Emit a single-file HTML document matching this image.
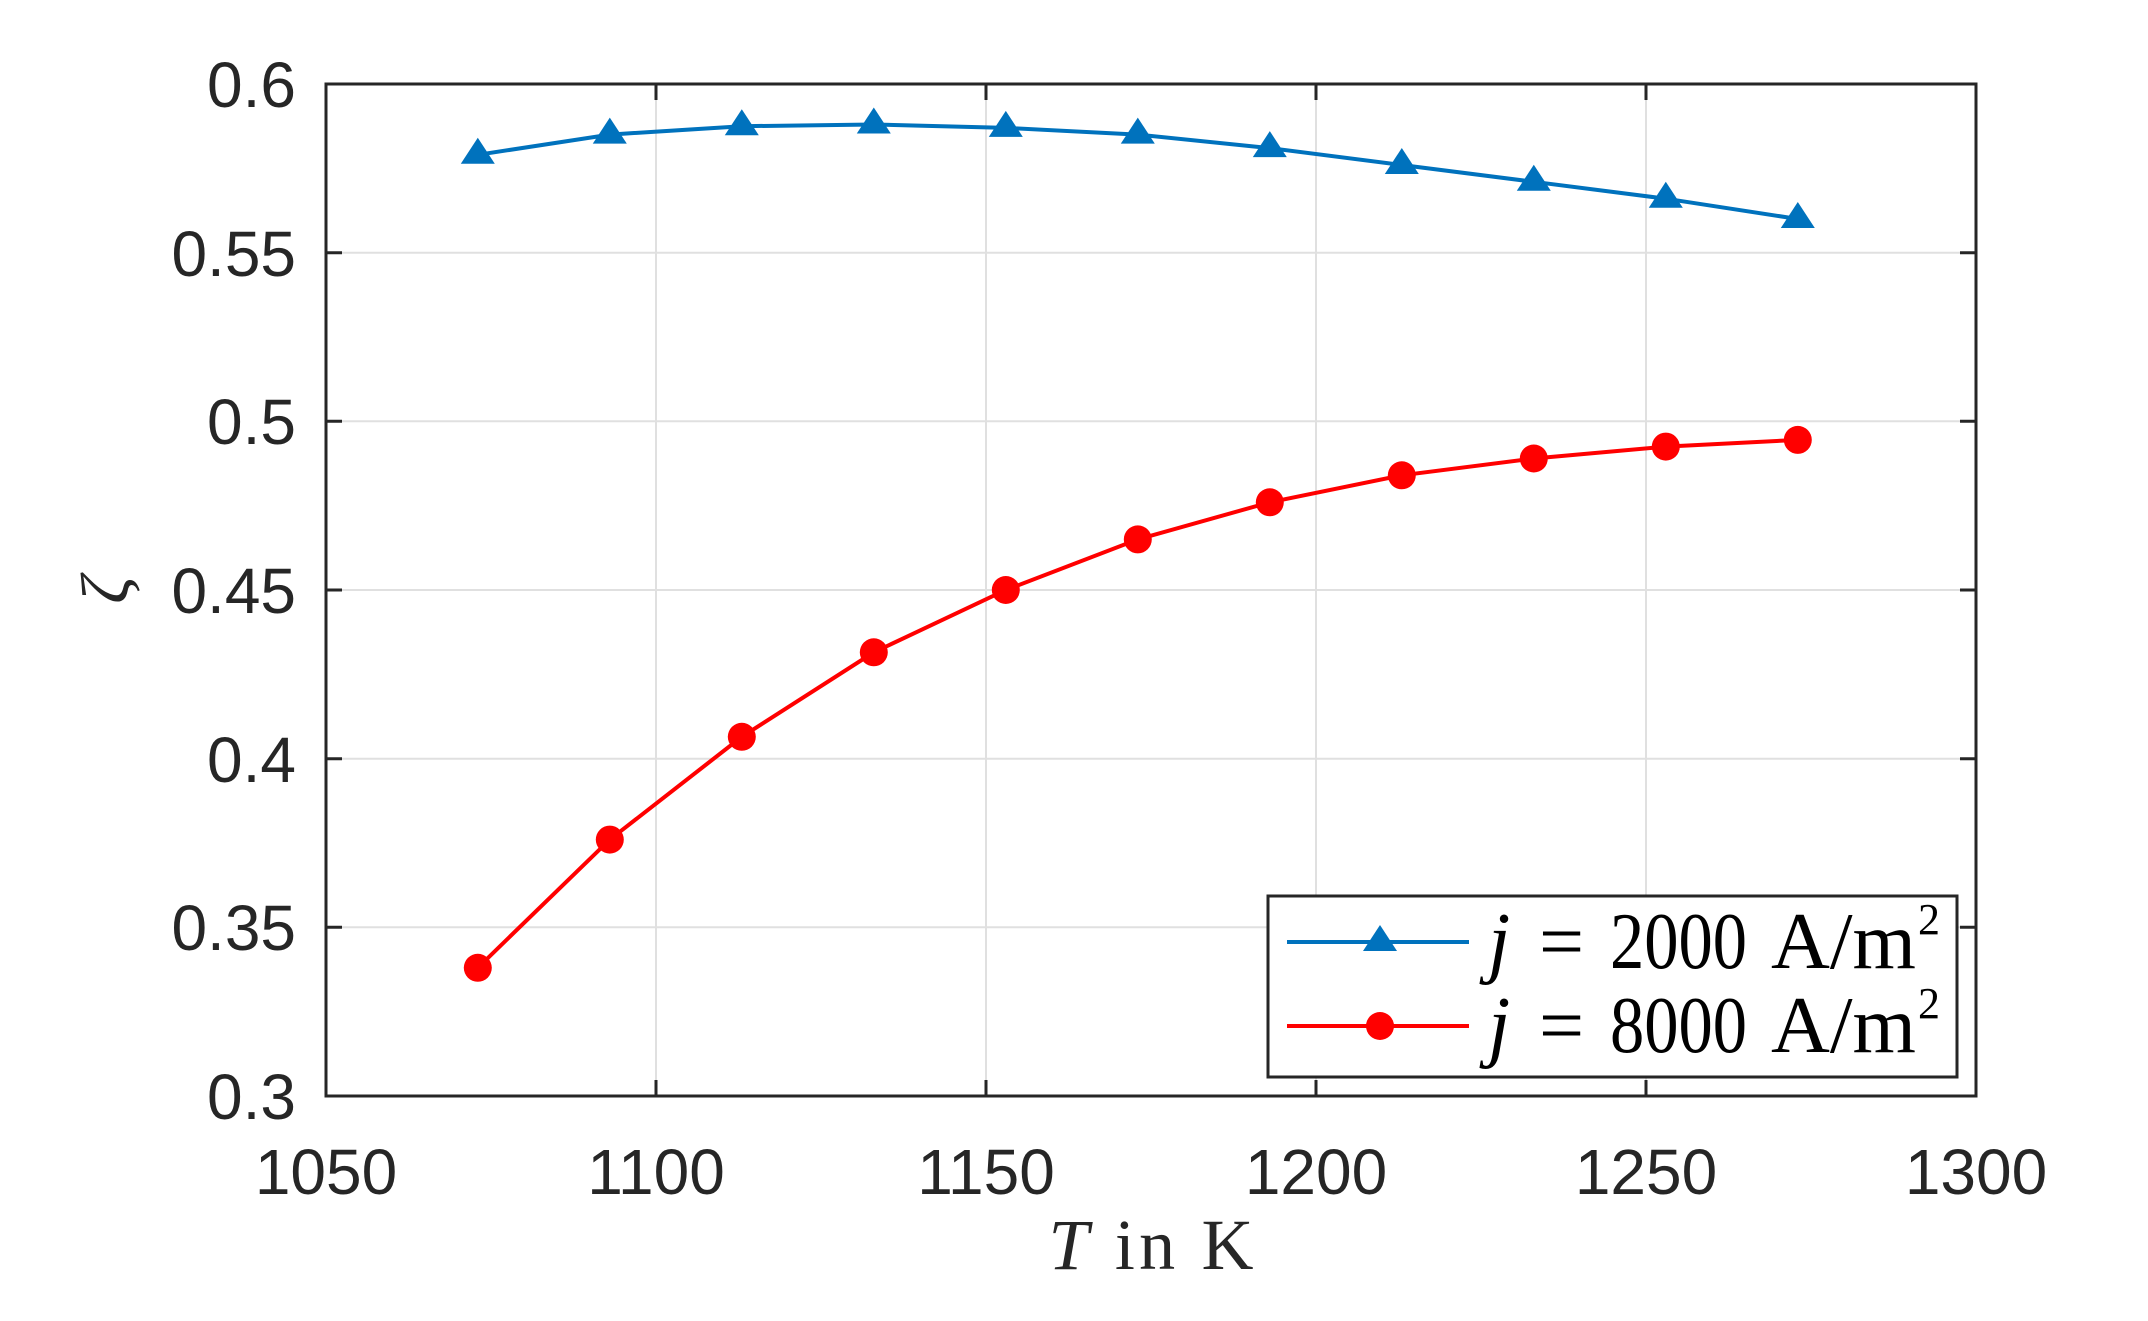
<!DOCTYPE html>
<html><head><style>html,body{margin:0;padding:0;background:#fff}</style></head><body>
<svg width="2148" height="1316" viewBox="0 0 2148 1316" xmlns="http://www.w3.org/2000/svg">
<rect width="2148" height="1316" fill="#fff"/>
<g stroke="#e0e0e0" stroke-width="2">
<line x1="656" y1="84" x2="656" y2="1096"/><line x1="986" y1="84" x2="986" y2="1096"/><line x1="1316" y1="84" x2="1316" y2="1096"/><line x1="1646" y1="84" x2="1646" y2="1096"/>
<line x1="326" y1="927.3" x2="1976" y2="927.3"/><line x1="326" y1="758.7" x2="1976" y2="758.7"/><line x1="326" y1="590" x2="1976" y2="590"/><line x1="326" y1="421.3" x2="1976" y2="421.3"/><line x1="326" y1="252.7" x2="1976" y2="252.7"/>
</g>
<g stroke="#262626" stroke-width="3" fill="none">
<rect x="326" y="84" width="1650" height="1012"/>
<path d="M656 1096v-16M986 1096v-16M1316 1096v-16M1646 1096v-16M656 84v16M986 84v16M1316 84v16M1646 84v16"/>
<path d="M326 927.3h16M326 758.7h16M326 590h16M326 421.3h16M326 252.7h16M1976 927.3h-16M1976 758.7h-16M1976 590h-16M1976 421.3h-16M1976 252.7h-16"/>
</g>
<g font-family="Liberation Sans, sans-serif" font-size="64" fill="#262626" text-anchor="end">
<text x="296" y="1119">0.3</text><text x="296" y="950">0.35</text><text x="296" y="782">0.4</text><text x="296" y="613">0.45</text><text x="296" y="444">0.5</text><text x="296" y="276">0.55</text><text x="296" y="107">0.6</text>
</g>
<g font-family="Liberation Sans, sans-serif" font-size="64" fill="#262626" text-anchor="middle">
<text x="326" y="1194">1050</text><text x="656" y="1194">1100</text><text x="986" y="1194">1150</text><text x="1316" y="1194">1200</text><text x="1646" y="1194">1250</text><text x="1976" y="1194">1300</text>
</g>
<text x="1151" y="1269" font-family="Liberation Serif, serif" font-size="72" fill="#262626" text-anchor="middle" textLength="205"><tspan font-style="italic">T</tspan> in K</text>
<text x="0" y="0" transform="translate(128,590) rotate(-90)" font-family="Liberation Serif, DejaVu Serif, serif" font-style="italic" font-size="68" fill="#262626" text-anchor="middle">ζ</text>
<polyline fill="none" stroke="#0072bd" stroke-width="4" points="477.8,154.8 609.8,134.6 741.8,126.2 873.8,124.5 1005.8,127.9 1137.8,134.6 1269.8,148.1 1401.8,165 1533.8,181.8 1665.8,198.7 1797.8,219"/>
<g fill="#0072bd">
<path d="M477.8 137.8l17 26h-34z"/><path d="M609.8 117.6l17 26h-34z"/><path d="M741.8 109.2l17 26h-34z"/><path d="M873.8 107.5l17 26h-34z"/><path d="M1005.8 110.9l17 26h-34z"/><path d="M1137.8 117.6l17 26h-34z"/><path d="M1269.8 131.1l17 26h-34z"/><path d="M1401.8 148l17 26h-34z"/><path d="M1533.8 164.8l17 26h-34z"/><path d="M1665.8 181.7l17 26h-34z"/><path d="M1797.8 202l17 26h-34z"/>
</g>
<polyline fill="none" stroke="#ff0000" stroke-width="4" points="477.8,967.8 609.8,839.6 741.8,736.8 873.8,652.3 1005.8,590 1137.8,539.4 1269.8,502.3 1401.8,475.3 1533.8,458.5 1665.8,446.6 1797.8,439.9"/>
<g fill="#ff0000">
<circle cx="477.8" cy="967.8" r="14"/><circle cx="609.8" cy="839.6" r="14"/><circle cx="741.8" cy="736.8" r="14"/><circle cx="873.8" cy="652.3" r="14"/><circle cx="1005.8" cy="590" r="14"/><circle cx="1137.8" cy="539.4" r="14"/><circle cx="1269.8" cy="502.3" r="14"/><circle cx="1401.8" cy="475.3" r="14"/><circle cx="1533.8" cy="458.5" r="14"/><circle cx="1665.8" cy="446.6" r="14"/><circle cx="1797.8" cy="439.9" r="14"/>
</g>
<rect x="1268" y="896" width="689" height="181" fill="#fff" stroke="#262626" stroke-width="3"/>
<line x1="1287" y1="942" x2="1469" y2="942" stroke="#0072bd" stroke-width="4"/>
<path d="M1380 925l17 26h-34z" fill="#0072bd"/>
<line x1="1287" y1="1026" x2="1469" y2="1026" stroke="#ff0000" stroke-width="4"/>
<circle cx="1380" cy="1026" r="14" fill="#ff0000"/>
<g font-family="Liberation Serif, serif" font-size="80" fill="#000">
<text x="1488" y="968" font-style="italic">j</text><text x="1539" y="968">=</text><text x="1610" y="968" textLength="137" lengthAdjust="spacingAndGlyphs">2000</text><text x="1771" y="968" textLength="145" lengthAdjust="spacingAndGlyphs">A/m</text><text x="1918" y="934" font-size="44">2</text>
<text x="1488" y="1052" font-style="italic">j</text><text x="1539" y="1052">=</text><text x="1610" y="1052" textLength="137" lengthAdjust="spacingAndGlyphs">8000</text><text x="1771" y="1052" textLength="145" lengthAdjust="spacingAndGlyphs">A/m</text><text x="1918" y="1018" font-size="44">2</text>
</g>
</svg>
</body></html>
